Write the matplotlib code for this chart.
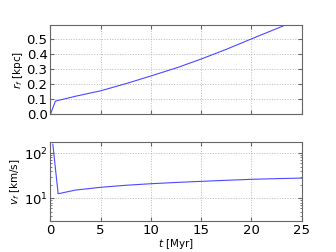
import matplotlib
matplotlib.use('Agg')
import matplotlib.pyplot as plt

t_r = [0.0, 0.5, 2.5, 5.0, 7.5, 10.0, 12.7, 15.0, 17.5, 20.0, 23.4, 25.0]
r_f = [0.0, 0.088, 0.12, 0.156, 0.203, 0.254, 0.311, 0.366, 0.43, 0.499, 0.591, 0.635]

t_v = [0.24, 0.77, 2.5, 5.0, 7.5, 10.0, 12.5, 15.0, 17.5, 20.0, 22.5, 25.0]
v_f = [158, 12.6, 15.2, 17.5, 19.4, 21.0, 22.4, 23.7, 25.0, 26.3, 27.2, 28.0]

r_ticks = [0.0, 0.1, 0.2, 0.3, 0.4, 0.5]
t_ticks = [0, 5, 10, 15, 20, 25]

fig = plt.figure(figsize=(3.36, 2.52), dpi=100)
ax1 = fig.add_axes([0.150, 0.546, 0.748, 0.355])
ax2 = fig.add_axes([0.150, 0.122, 0.748, 0.314])

for ax in (ax1, ax2):
    ax.grid(True, linestyle=':', color='0.72', linewidth=0.7)
    ax.tick_params(direction='in', top=True, right=True, labelsize=9.5,
                   color='0.4', length=3, pad=2)
    ax.tick_params(which='minor', direction='in', top=True, right=True,
                   color='0.4', length=1.5)
    for s in ax.spines.values():
        s.set_color('0.4')
    ax.set_xlim(0, 25)
    ax.set_xticks(t_ticks)

ax1.plot(t_r, r_f, color='#4a4aff', lw=0.8)
ax1.set_ylim(0, 0.591)
ax1.set_yticks(r_ticks)
ax1.set_xticklabels([])
ax1.set_ylabel(r'$r_f$ [kpc]', fontsize=7.5, labelpad=1)

ax2.plot(t_v, v_f, color='#4a4aff', lw=0.8)
ax2.set_yscale('log')
ax2.set_ylim(3.1, 175)
ax2.set_ylabel(r'$v_f$ [km/s]', fontsize=7.5, labelpad=1)
ax2.set_xlabel(r'$t$ [Myr]', fontsize=7.5, labelpad=0)

fig.savefig('out.png', dpi=100)
